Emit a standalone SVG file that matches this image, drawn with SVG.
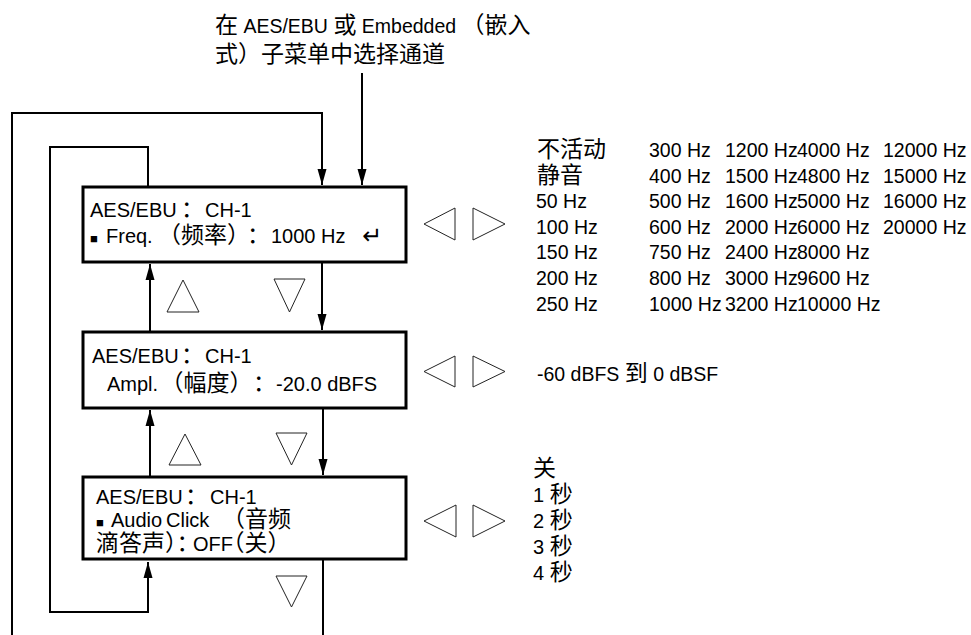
<svg xmlns="http://www.w3.org/2000/svg" width="971" height="635" viewBox="0 0 971 635">
<style>
text{font-family:"Liberation Sans","Noto Sans CJK SC",sans-serif;font-size:20px;fill:#000}
.l{font-size:19.5px}
.c{font-size:23px}
.h{font-feature-settings:"halt"}
.sq{font-family:"Liberation Sans","DejaVu Sans",sans-serif;font-size:13px}
.ret{font-family:"DejaVu Sans",sans-serif;font-size:24px}
.box{fill:#fff;stroke:#000;stroke-width:3}
.ln{fill:none;stroke:#000;stroke-width:2}
.tri{fill:none;stroke:#222;stroke-width:1}
</style>
<defs>
<marker id="ah" markerWidth="16" markerHeight="10" refX="16" refY="5" orient="auto" markerUnits="userSpaceOnUse">
<path d="M0,0.5 L16,5 L0,9.5 z" fill="#000"/>
</marker>
</defs>
<rect width="971" height="635" fill="#fff"/>

<g id="connectors">
<path class="ln" d="M12,635 V113 H322 V185" marker-end="url(#ah)"/>
<path class="ln" d="M362,73 V185" marker-end="url(#ah)"/>
<path class="ln" d="M148,187 V147 H50 V612 H148 V562" marker-end="url(#ah)"/>
<path class="ln" d="M150,332 V264" marker-end="url(#ah)"/>
<path class="ln" d="M150,477 V410" marker-end="url(#ah)"/>
<path class="ln" d="M322,262 V330" marker-end="url(#ah)"/>
<path class="ln" d="M323,408 V475" marker-end="url(#ah)"/>
<path class="ln" d="M323,560 V635"/>
</g>

<g id="caption">
<text x="215" y="33" class="l"><tspan class="c">在</tspan> AES/EBU <tspan class="c">或</tspan> Embedded <tspan class="c">（嵌入</tspan></text>
<text x="215" y="62" class="c">式）子菜单中选择通道</text>
</g>

<g id="node-freq">
<rect class="box" x="83" y="187" width="323" height="75"/>
<text y="217"><tspan x="90">AES/EBU</tspan><tspan x="181" class="c h">：</tspan><tspan x="205">CH-1</tspan></text>
<text y="243"><tspan x="90" class="sq">■</tspan><tspan x="106">Freq.</tspan><tspan x="169.5" class="c h">（频率）</tspan><tspan x="247" class="c h">：</tspan><tspan x="271">1000 Hz</tspan><tspan x="362" y="244" class="ret">↵</tspan></text>
</g>

<g id="node-ampl">
<rect class="box" x="83" y="332" width="323" height="76"/>
<text y="363"><tspan x="92">AES/EBU</tspan><tspan x="181" class="c h">：</tspan><tspan x="205">CH-1</tspan></text>
<text y="391"><tspan x="107">Ampl.</tspan><tspan x="172" class="c h">（幅度）</tspan><tspan x="253" class="c h">：</tspan><tspan x="276">-20.0 dBFS</tspan></text>
</g>

<g id="node-click">
<rect class="box" x="83" y="477" width="323" height="82"/>
<text y="504"><tspan x="96">AES/EBU</tspan><tspan x="185" class="c h">：</tspan><tspan x="210">CH-1</tspan></text>
<text y="527"><tspan x="96" class="sq">■</tspan><tspan x="111">Audio</tspan><tspan x="166">Click</tspan><tspan x="233.5" class="c h">（音频</tspan></text>
<text y="551"><tspan x="96" class="c h">滴答声）：</tspan><tspan x="193">OFF</tspan><tspan x="233" class="c h">（关）</tspan></text>
</g>

<g id="buttons">
<polygon class="tri" points="167,312 199,312 183,280"/>
<polygon class="tri" points="274,279 305,279 289.5,312"/>
<polygon class="tri" points="169,465 201,465 185,434"/>
<polygon class="tri" points="276,433 307,433 291.5,465"/>
<polygon class="tri" points="276,576 307,576 291.5,607"/>
<polygon class="tri" points="455,208 455,240 424,224"/>
<polygon class="tri" points="473,208 473,240 505,224"/>
<polygon class="tri" points="455,356 455,387 424,371.5"/>
<polygon class="tri" points="473,356 473,387 505,371.5"/>
<polygon class="tri" points="456,505 456,537 424,521"/>
<polygon class="tri" points="473,505 473,537 505,521"/>
</g>

<g id="freq-values">
<text x="537" y="157" class="c">不活动</text>
<text x="537" y="183" class="c">静音</text>
<text x="536" y="208" class="l">50 Hz</text>
<text x="536" y="234" class="l">100 Hz</text>
<text x="536" y="259" class="l">150 Hz</text>
<text x="536" y="285" class="l">200 Hz</text>
<text x="536" y="311" class="l">250 Hz</text>
<text x="649" y="157" class="l">300 Hz</text>
<text x="649" y="183" class="l">400 Hz</text>
<text x="649" y="208" class="l">500 Hz</text>
<text x="649" y="234" class="l">600 Hz</text>
<text x="649" y="259" class="l">750 Hz</text>
<text x="649" y="285" class="l">800 Hz</text>
<text x="649" y="311" class="l">1000 Hz</text>
<text x="725" y="157" class="l">1200 Hz</text>
<text x="725" y="183" class="l">1500 Hz</text>
<text x="725" y="208" class="l">1600 Hz</text>
<text x="725" y="234" class="l">2000 Hz</text>
<text x="725" y="259" class="l">2400 Hz</text>
<text x="725" y="285" class="l">3000 Hz</text>
<text x="725" y="311" class="l">3200 Hz</text>
<text x="797" y="157" class="l">4000 Hz</text>
<text x="797" y="183" class="l">4800 Hz</text>
<text x="797" y="208" class="l">5000 Hz</text>
<text x="797" y="234" class="l">6000 Hz</text>
<text x="797" y="259" class="l">8000 Hz</text>
<text x="797" y="285" class="l">9600 Hz</text>
<text x="797" y="311" class="l">10000 Hz</text>
<text x="883" y="157" class="l">12000 Hz</text>
<text x="883" y="183" class="l">15000 Hz</text>
<text x="883" y="208" class="l">16000 Hz</text>
<text x="883" y="234" class="l">20000 Hz</text>
</g>

<g id="ampl-range">
<text x="537" y="381" class="l">-60 dBFS <tspan class="c">到</tspan> 0 dBSF</text>
</g>

<g id="click-values">
<text x="533" y="476" class="c">关</text>
<text x="533" y="502">1 <tspan class="c">秒</tspan></text>
<text x="533" y="528">2 <tspan class="c">秒</tspan></text>
<text x="533" y="554">3 <tspan class="c">秒</tspan></text>
<text x="533" y="580">4 <tspan class="c">秒</tspan></text>
</g>
</svg>
